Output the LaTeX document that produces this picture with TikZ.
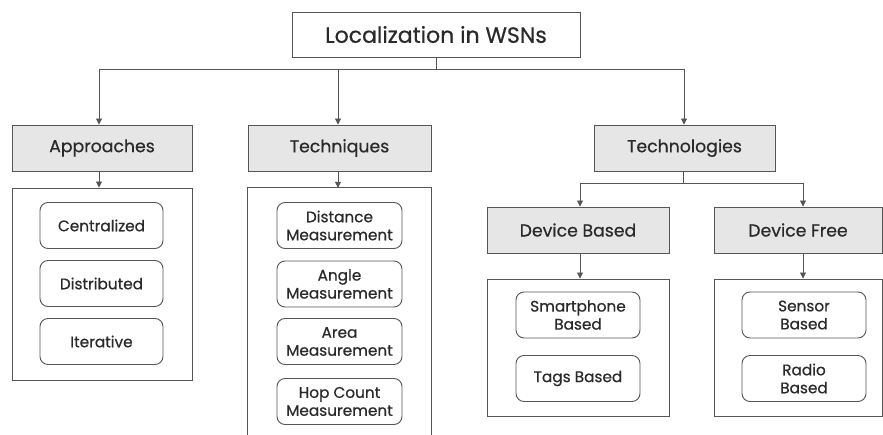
\documentclass[tikz,border=0pt]{standalone}
\usepackage{fontspec}
\setmainfont{Poppins}[FakeBold=0.6]
\usetikzlibrary{arrows.meta}
\definecolor{txt}{HTML}{2A2A2A}
\definecolor{ln}{HTML}{555555}
\definecolor{hdr}{HTML}{E6E6E6}
\tikzset{
  box/.style={draw=ln, line width=0.9pt, inner sep=0pt, align=center, text=txt},
  topbox/.style={box, fill=white, font=\fontsize{22}{26}\selectfont, minimum width=288pt, minimum height=45pt},
  hdrbox/.style={box, fill=hdr, font=\fontsize{17.3}{20}\selectfont},
  holder/.style={box},
  item/.style={box, rounded corners=8pt, font=\fontsize{15.3}{18}\selectfont, minimum height=46pt},
  arr/.style={draw=ln, line width=0.9pt, -{Triangle[width=6pt,length=6pt]}},
  lnk/.style={draw=ln, line width=0.9pt}
}
\begin{document}
\begin{tikzpicture}[x=1pt,y=-1pt]
\useasboundingbox (0,0) rectangle (883,435);
% top
\node[topbox] (top) at (436,34.5) {Localization in WSNs};
% headers
\node[hdrbox, minimum width=180pt, minimum height=46pt] (app) at (102,148) {Approaches};
\node[hdrbox, minimum width=183pt, minimum height=46pt] (tec) at (339.5,148) {Techniques};
\node[hdrbox, minimum width=181pt, minimum height=46pt] (tgy) at (684.5,148) {Technologies};
% containers
\node[holder, minimum width=180pt, minimum height=192pt] (appc) at (102,284) {};
\node[inner sep=0pt, minimum width=183pt, minimum height=250pt] (tecc) at (339.5,313) {};
\draw[lnk] (tecc.south west) -- (tecc.north west) -- (tecc.north east) -- (tecc.south east);
% approach items
\node[item, minimum width=123pt] (cen) at (101.5,225.5) {Centralized};
\node[item, minimum width=123pt] (dis) at (101.5,283.5) {Distributed};
\node[item, minimum width=123pt] (ite) at (101.5,341.5) {Iterative};
% technique items
\node[item, minimum width=125pt] (dm) at (339.5,225.5) {Distance\\Measurement};
\node[item, minimum width=125pt] (am) at (339.5,284) {Angle\\Measurement};
\node[item, minimum width=125pt] (arm) at (339.5,341.5) {Area\\Measurement};
\node[item, minimum width=125pt] (hm) at (339.5,401.5) {Hop Count\\Measurement};
% technologies sub
\node[hdrbox, minimum width=182pt, minimum height=46pt] (db) at (578,230) {Device Based};
\node[hdrbox, minimum width=168pt, minimum height=46pt] (df) at (798,230) {Device Free};
\node[holder, minimum width=182pt, minimum height=137pt] (dbc) at (578,347.5) {};
\node[holder, minimum width=168pt, minimum height=137pt] (dfc) at (798,347.5) {};
\node[item, minimum width=124pt] (sp) at (578,315) {Smartphone\\Based};
\node[item, minimum width=124pt] (tb) at (578,378.5) {Tags Based};
\node[item, minimum width=124pt] (sb) at (804,315) {Sensor\\Based};
\node[item, minimum width=124pt] (rb) at (804,378.5) {Radio\\Based};
% connectors
\coordinate (busL) at (99,69);
\coordinate (busM) at (338,69);
\coordinate (busR) at (684,69);
\draw[lnk] (busL) -- (busR);
\draw[lnk] (top.south) -- (top.south |- busL);
\draw[arr] (busL) -- (busL |- app.north);
\draw[arr] (busM) -- (busM |- tec.north);
\draw[arr] (busR) -- (busR |- tgy.north);
\coordinate (sbus) at (683,183);
\coordinate (sbL) at (580,183);
\coordinate (sbR) at (803,183);
\draw[lnk] (tgy.south -| sbus) -- (sbus);
\draw[lnk] (sbL) -- (sbR);
\draw[arr] (sbL) -- (sbL |- db.north);
\draw[arr] (sbR) -- (sbR |- df.north);
\draw[arr] (app.south -| busL) -- (appc.north -| busL);
\draw[arr] (tec.south -| busM) -- (tecc.north -| busM);
\draw[arr] (db.south -| sbL) -- (dbc.north -| sbL);
\draw[arr] (df.south -| sbR) -- (dfc.north -| sbR);
\end{tikzpicture}
\end{document}
